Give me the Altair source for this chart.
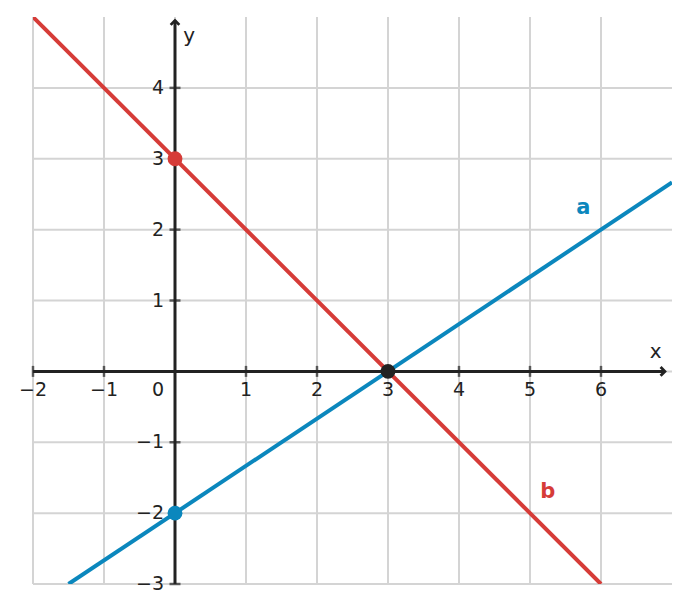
import altair as alt
import pandas as pd

# ---- data ----
grid_x = [-2, -1, 0, 1, 2, 3, 4, 5, 6]
grid_y = [-3, -2, -1, 0, 1, 2, 3, 4]
xtick_vals = [-2, -1, 1, 2, 3, 4, 5, 6]
xtick_labels = ["−2", "−1", "1", "2", "3", "4", "5", "6"]
ytick_vals = [-3, -2, -1, 1, 2, 3, 4]
ytick_labels = ["−3", "−2", "−1", "1", "2", "3", "4"]

line_a_x = [-1.5, 7.0]
line_a_y = [-3.0, 2.667]
line_b_x = [-2.0, 6.0]
line_b_y = [5.0, -3.0]

pts_x = [0, 0, 3]
pts_y = [3, -2, 0]
pts_c = ["b", "a", "s"]

labels_txt = ["a", "b"]
labels_x = [5.75, 5.25]
labels_y = [2.31, -1.70]

RED = "#d63c38"
BLUE = "#0b87bd"
DARK = "#222222"
GRID = "#d4d4d4"

xs = alt.Scale(domain=[-2, 7], nice=False, zero=False)
ys = alt.Scale(domain=[-3, 5], nice=False, zero=False)

def X(f="x"):
    return alt.X(f"{f}:Q", scale=xs, axis=None)

def Y(f="y"):
    return alt.Y(f"{f}:Q", scale=ys, axis=None)

gx = alt.Chart(pd.DataFrame({"x": grid_x})).mark_rule(color=GRID, strokeWidth=2).encode(
    x=X(), y=alt.value(0), y2=alt.value(567))
gy = alt.Chart(pd.DataFrame({"y": grid_y})).mark_rule(color=GRID, strokeWidth=2).encode(
    y=Y(), x=alt.value(0), x2=alt.value(639))

axes_df = pd.DataFrame({"x": [-2, 0], "x2": [6.9, 0], "y": [0, -3], "y2": [0, 4.95]})
axes = alt.Chart(axes_df).mark_rule(color=DARK, strokeWidth=3).encode(
    x=X(), x2="x2:Q", y=Y(), y2="y2:Q")

arrow_df = pd.DataFrame({"x": [6.9, 0], "y": [0, 4.95], "ang": [0, 270]})
arrows = alt.Chart(arrow_df).mark_point(
    shape="M-1,-1L0,0L-1,1", filled=False, color=DARK, strokeWidth=2.8, size=75, opacity=1
).encode(x=X(), y=Y(), angle=alt.Angle("ang:Q", scale=None))

xt = alt.Chart(pd.DataFrame({"x": xtick_vals, "y": [0] * len(xtick_vals)})).mark_tick(
    orient="vertical", size=11, thickness=2.5, color=DARK).encode(x=X(), y=Y())
yt = alt.Chart(pd.DataFrame({"x": [0] * len(ytick_vals), "y": ytick_vals})).mark_tick(
    orient="horizontal", size=11, thickness=2.5, color=DARK).encode(x=X(), y=Y())

xl = alt.Chart(pd.DataFrame({"x": xtick_vals, "y": [0] * len(xtick_vals), "t": xtick_labels})).mark_text(
    font="DejaVu Sans", fontSize=19, color=DARK, dy=19, baseline="middle", align="center").encode(
    x=X(), y=Y(), text="t:N")
yl = alt.Chart(pd.DataFrame({"x": [0] * len(ytick_vals), "y": ytick_vals, "t": ytick_labels})).mark_text(
    font="DejaVu Sans", fontSize=19, color=DARK, dx=-11, baseline="middle", align="right").encode(
    x=X(), y=Y(), text="t:N")
zl = alt.Chart(pd.DataFrame({"x": [0], "y": [0], "t": ["0"]})).mark_text(
    font="DejaVu Sans", fontSize=19, color=DARK, dx=-11, dy=19, baseline="middle", align="right").encode(
    x=X(), y=Y(), text="t:N")

axl = alt.Chart(pd.DataFrame({"x": [6.77, 0.2], "y": [0.28, 4.73], "t": ["x", "y"]})).mark_text(
    font="DejaVu Sans", fontSize=20, color=DARK, baseline="middle", align="center").encode(
    x=X(), y=Y(), text="t:N")

la = alt.Chart(pd.DataFrame({"x": line_a_x, "y": line_a_y})).mark_line(
    color=BLUE, strokeWidth=4, clip=True).encode(x=X(), y=Y())
lb = alt.Chart(pd.DataFrame({"x": line_b_x, "y": line_b_y})).mark_line(
    color=RED, strokeWidth=4, clip=True).encode(x=X(), y=Y())

pts = alt.Chart(pd.DataFrame({"x": pts_x, "y": pts_y, "c": pts_c})).mark_circle(
    size=220, opacity=1).encode(
    x=X(), y=Y(),
    color=alt.Color("c:N", scale=alt.Scale(domain=["a", "b", "s"], range=[BLUE, RED, DARK]), legend=None))

lbl = alt.Chart(pd.DataFrame({"x": labels_x, "y": labels_y, "t": labels_txt})).mark_text(
    font="DejaVu Sans", fontSize=21, fontWeight="bold", baseline="middle", align="center").encode(
    x=X(), y=Y(), text="t:N",
    color=alt.Color("t:N", scale=alt.Scale(domain=["a", "b"], range=[BLUE, RED]), legend=None))

chart = alt.layer(gx, gy, axes, arrows, xt, yt, xl, yl, zl, axl, la, lb, pts, lbl).properties(
    width=639, height=567,
    autosize=alt.AutoSizeParams(type="none"),
    padding={"left": 25, "top": 9, "right": 9, "bottom": 21},
).configure_view(stroke=None).resolve_scale(color="independent")

chart.save("out.html", embed_options={"renderer": "svg", "actions": False})
